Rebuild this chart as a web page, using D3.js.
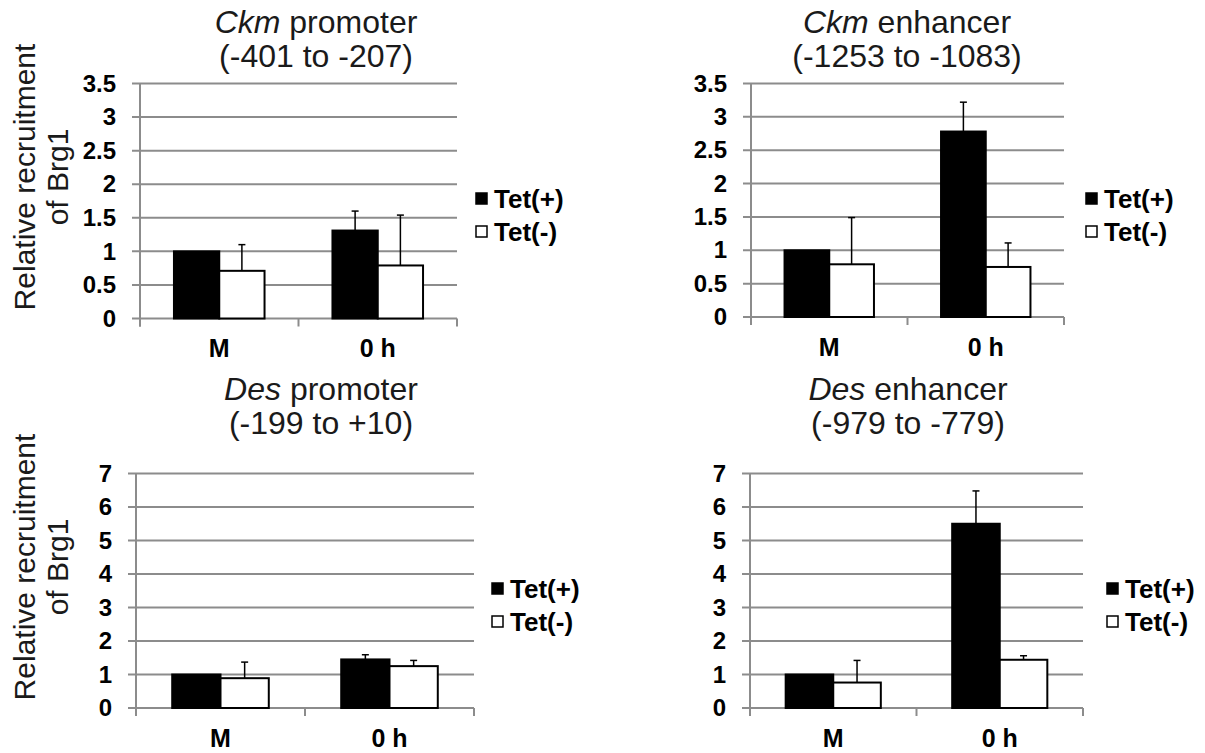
<!DOCTYPE html>
<html>
<head>
<meta charset="utf-8">
<script src="https://cdnjs.cloudflare.com/ajax/libs/d3/7.8.5/d3.min.js"></script>
<style>
  body { margin: 0; background: #fff; }
  svg { display: block; font-family: "Liberation Sans", Arial, sans-serif; }
</style>
</head>
<body>
<script>
var categories = ['M', '0 h'];
var series = ['Tet(+)', 'Tet(-)'];

// values, [M, 0 h]
var ckmPromPlus = [1.0, 1.31], ckmPromPlusErr = [0, 0.29];
var ckmPromMinus = [0.71, 0.79], ckmPromMinusErr = [0.39, 0.75];
var ckmEnhPlus = [1.0, 2.78], ckmEnhPlusErr = [0, 0.44];
var ckmEnhMinus = [0.79, 0.75], ckmEnhMinusErr = [0.70, 0.36];
var desPromPlus = [1.0, 1.45], desPromPlusErr = [0, 0.14];
var desPromMinus = [0.89, 1.25], desPromMinusErr = [0.48, 0.17];
var desEnhPlus = [1.0, 5.5], desEnhPlusErr = [0, 0.98];
var desEnhMinus = [0.76, 1.44], desEnhMinusErr = [0.66, 0.12];

var ticksSmall = [0, 0.5, 1, 1.5, 2, 2.5, 3, 3.5];
var ticksLarge = [0, 1, 2, 3, 4, 5, 6, 7];

var panels = [
  { gene: 'Ckm', region: ' promoter', range: '(-401 to -207)', plus: ckmPromPlus, plusErr: ckmPromPlusErr,
    minus: ckmPromMinus, minusErr: ckmPromMinusErr, ticks: ticksSmall,
    x0: 140, x1: 457, yTop: 83.5, yBot: 318.5, titleX: 316, titleY: 33, legX: 476, legY: 199, ylab: true, ylabY: 177 },
  { gene: 'Ckm', region: ' enhancer', range: '(-1253 to -1083)', plus: ckmEnhPlus, plusErr: ckmEnhPlusErr,
    minus: ckmEnhMinus, minusErr: ckmEnhMinusErr, ticks: ticksSmall,
    x0: 751, x1: 1064, yTop: 83.5, yBot: 317, titleX: 907, titleY: 33, legX: 1086, legY: 199, ylab: false },
  { gene: 'Des', region: ' promoter', range: '(-199 to +10)', plus: desPromPlus, plusErr: desPromPlusErr,
    minus: desPromMinus, minusErr: desPromMinusErr, ticks: ticksLarge,
    x0: 136, x1: 474, yTop: 473.5, yBot: 708, titleX: 321, titleY: 400, legX: 492, legY: 589, ylab: true, ylabY: 567 },
  { gene: 'Des', region: ' enhancer', range: '(-979 to -779)', plus: desEnhPlus, plusErr: desEnhPlusErr,
    minus: desEnhMinus, minusErr: desEnhMinusErr, ticks: ticksLarge,
    x0: 750, x1: 1083, yTop: 473.5, yBot: 708, titleX: 908, titleY: 400, legX: 1107, legY: 589, ylab: false }
];

var svg = d3.select('body').append('svg')
  .attr('width', 1205)
  .attr('height', 753);

var GRID = '#8c8c8c';

panels.forEach(function(p) {
  var g = svg.append('g');
  var yMax = p.ticks[p.ticks.length - 1];
  var y = d3.scaleLinear().domain([0, yMax]).range([p.yBot, p.yTop]);
  var x = d3.scaleBand().domain(categories).range([p.x0, p.x1]);
  var xs = d3.scaleBand().domain(series).range([0, x.bandwidth()]).paddingInner(0).paddingOuter(0.75);

  // gridlines
  g.selectAll('.grid').data(p.ticks).enter().append('line')
    .attr('x1', p.x0 - 8).attr('x2', p.x1)
    .attr('y1', function(d) { return y(d); }).attr('y2', function(d) { return y(d); })
    .attr('stroke', GRID).attr('stroke-width', 2);

  // y axis
  var yAxis = d3.axisLeft(y).tickValues(p.ticks).tickSize(0).tickPadding(24)
    .tickFormat(function(d) { return String(d); });
  var ya = g.append('g').attr('transform', 'translate(' + p.x0 + ',0)').call(yAxis);
  ya.select('.domain').remove();
  ya.selectAll('text').attr('font-size', 24).attr('font-weight', 'bold')
    .attr('fill', '#000').attr('font-family', '"Liberation Sans", Arial, sans-serif');
  g.append('line').attr('x1', p.x0).attr('x2', p.x0).attr('y1', p.yTop).attr('y2', p.yBot + 8)
    .attr('stroke', GRID).attr('stroke-width', 2);

  // x axis ticks at category boundaries
  var bounds = [p.x0].concat(categories.map(function(c) { return x(c) + x.bandwidth(); }));
  g.selectAll('.xt').data(bounds).enter().append('line')
    .attr('x1', function(d) { return d; }).attr('x2', function(d) { return d; })
    .attr('y1', p.yBot).attr('y2', p.yBot + 8)
    .attr('stroke', GRID).attr('stroke-width', 2);

  var xAxis = d3.axisBottom(x).tickSize(0).tickPadding(21);
  var xa = g.append('g').attr('transform', 'translate(0,' + p.yBot + ')').call(xAxis);
  xa.select('.domain').remove();
  xa.selectAll('text').attr('font-size', 25).attr('font-weight', 'bold')
    .attr('fill', '#000').attr('font-family', '"Liberation Sans", Arial, sans-serif');

  // bars
  var rows = [];
  categories.forEach(function(c, i) {
    rows.push({ cat: c, s: series[0], v: p.plus[i], e: p.plusErr[i] });
    rows.push({ cat: c, s: series[1], v: p.minus[i], e: p.minusErr[i] });
  });

  g.selectAll('.bar').data(rows).enter().append('rect')
    .attr('x', function(d) { return x(d.cat) + xs(d.s); })
    .attr('y', function(d) { return y(d.v); })
    .attr('width', xs.bandwidth())
    .attr('height', function(d) { return y(0) - y(d.v); })
    .attr('fill', function(d) { return d.s === series[0] ? '#000' : '#fff'; })
    .attr('stroke', '#000').attr('stroke-width', 2);

  // error bars (upper only)
  var eb = rows.filter(function(d) { return d.e > 0; });
  g.selectAll('.err').data(eb).enter().append('line')
    .attr('x1', function(d) { return x(d.cat) + xs(d.s) + xs.bandwidth() / 2; })
    .attr('x2', function(d) { return x(d.cat) + xs(d.s) + xs.bandwidth() / 2; })
    .attr('y1', function(d) { return y(d.v); })
    .attr('y2', function(d) { return y(d.v + d.e); })
    .attr('stroke', '#000').attr('stroke-width', 1.5);
  g.selectAll('.cap').data(eb).enter().append('line')
    .attr('x1', function(d) { return x(d.cat) + xs(d.s) + xs.bandwidth() / 2 - 3.5; })
    .attr('x2', function(d) { return x(d.cat) + xs(d.s) + xs.bandwidth() / 2 + 3.5; })
    .attr('y1', function(d) { return y(d.v + d.e); })
    .attr('y2', function(d) { return y(d.v + d.e); })
    .attr('stroke', '#000').attr('stroke-width', 1.5);

  // title
  var t1 = g.append('text').attr('x', p.titleX).attr('y', p.titleY)
    .attr('text-anchor', 'middle').attr('font-size', 32).attr('fill', '#1a1a1a');
  t1.append('tspan').attr('font-style', 'italic').text(p.gene);
  t1.append('tspan').text(p.region);
  g.append('text').attr('x', p.titleX).attr('y', p.titleY + 34)
    .attr('text-anchor', 'middle').attr('font-size', 32).attr('fill', '#1a1a1a')
    .text(p.range);

  // legend
  series.forEach(function(s, i) {
    var ly = p.legY + i * 33;
    g.append('rect').attr('x', p.legX).attr('y', ly - 6).attr('width', 11).attr('height', 11)
      .attr('fill', i === 0 ? '#000' : '#fff').attr('stroke', '#000').attr('stroke-width', 1.5);
    g.append('text').attr('x', p.legX + 18).attr('y', ly + 9)
      .attr('font-size', 26).attr('font-weight', 'bold').attr('fill', '#000').text(s);
  });

  // y title
  if (p.ylab) {
    var yt = g.append('text').attr('transform', 'translate(35,' + p.ylabY + ') rotate(-90)')
      .attr('text-anchor', 'middle').attr('font-size', 30).attr('fill', '#1a1a1a');
    yt.append('tspan').attr('x', 0).attr('dy', 0).text('Relative recruitment');
    yt.append('tspan').attr('x', 0).attr('dy', 33).text('of Brg1');
  }
});
</script>
</body>
</html>
